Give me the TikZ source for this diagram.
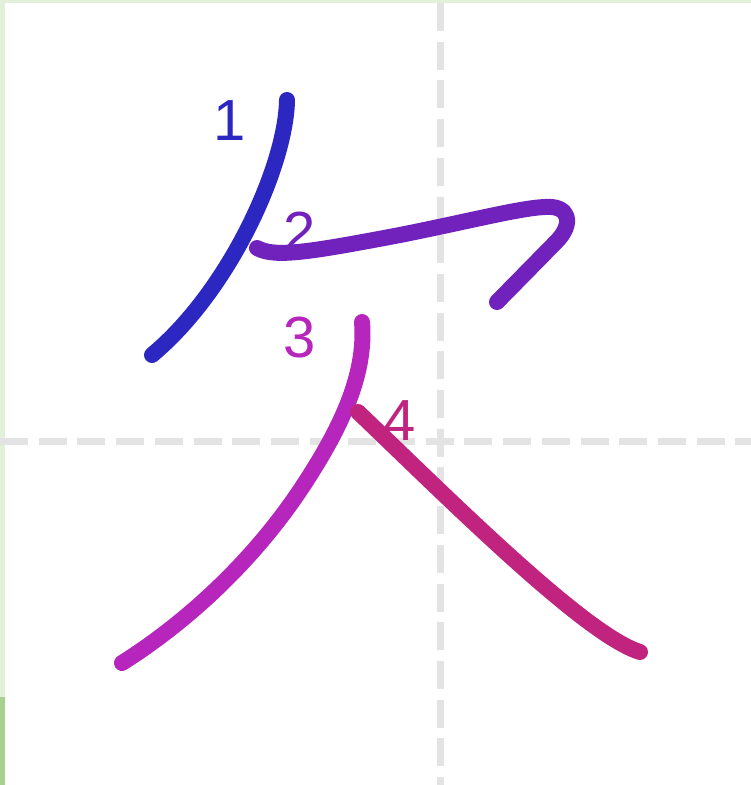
\documentclass[tikz,border=0pt]{standalone}
\usepackage{fontspec}
\setmainfont{Liberation Sans}
\usepackage{tikz}
\usetikzlibrary{positioning}
\usepackage{xcolor}
\definecolor{strokeone}{HTML}{2C27C0}
\definecolor{stroketwo}{HTML}{7122BC}
\definecolor{strokethree}{HTML}{B625BC}
\definecolor{strokefour}{HTML}{C0247F}
\definecolor{gridgray}{HTML}{E3E3E3}
\definecolor{edgelight}{HTML}{E2F0D9}
\definecolor{edgedark}{HTML}{A9D18E}

\begin{document}
\begin{tikzpicture}[
    x=1pt, y=-1pt,
    stroke/.style={line width=16pt, line cap=round, line join=round},
    guide/.style={gridgray, line width=7pt, dash pattern=on 28pt off 10.7pt},
    num/.style={anchor=base, inner sep=0pt, font=\fontsize{58}{58}\selectfont}
]
\useasboundingbox (0,0) rectangle (751,785);

% Frame
\fill[edgelight] (0,0) rectangle (751,3);
\fill[edgelight] (0,0) rectangle (5,697);
\fill[edgedark] (0,697) rectangle (5,785);

% Guides
\coordinate (vtop) at (440.5,3);
\coordinate (vbot) at (440.5,785);
\coordinate (hleft) at (0,441.5);
\coordinate (hright) at (751,441.5);
\draw[guide] (vtop) -- (vbot);
\draw[guide] (hleft) -- (hright);

% Numbers
\node[num, strokeone] (n1) at (230,140) {1};
\node[num, stroketwo] (n2) at (300,252) {2};
\node[num, strokethree] (n3) at (300,357) {3};
\node[num, strokefour] (n4) at (400,440) {4};

% Stroke 1
\draw[stroke, strokeone] (287,100) .. controls (286,165) and (230,290) .. (152,355);

% Stroke 2
\draw[stroke, stroketwo] (257,248) .. controls (275,258) and (310,252) .. (400,235)
    .. controls (470,221) and (520,208) .. (545,207)
    .. controls (570,205) and (574,224) .. (556,242) -- (497,302);

% Stroke 3
\draw[stroke, strokethree] (362,322) .. controls (366,370) and (345,420) .. (310,475)
    .. controls (260,555) and (190,620) .. (122,663);

% Stroke 4
\draw[stroke, strokefour] (358,412) .. controls (450,500) and (585,635) .. (640,652);

\end{tikzpicture}
\end{document}
